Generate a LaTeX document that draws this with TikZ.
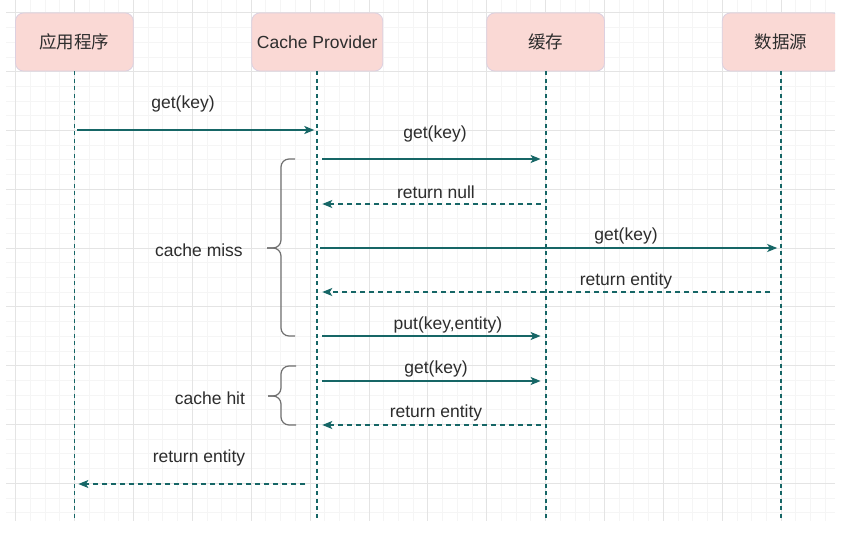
\documentclass[tikz,border=0pt]{standalone}
\usepackage{fontspec}
\setmainfont{Liberation Sans}
\newfontfamily\zhfont{Noto Sans CJK SC}
\usetikzlibrary{arrows.meta, calc}

\definecolor{seqteal}{RGB}{22,102,102}
\definecolor{boxfill}{RGB}{250,217,213}
\definecolor{boxline}{RGB}{220,208,224}
\definecolor{gridmajor}{RGB}{228,228,228}
\definecolor{gridminor}{RGB}{245,245,245}
\definecolor{txt}{RGB}{45,45,45}
\definecolor{bracegray}{RGB}{112,112,112}

\begin{document}
\begin{tikzpicture}[
    x=1pt, y=-1pt,
    every node/.style={font=\fontsize{17.5}{20}\selectfont, text=txt},
    actor/.style={draw=boxline, fill=boxfill, rounded corners=8pt, line width=0.8pt,
                  minimum width=117.8pt, minimum height=58pt, inner sep=0pt},
    life/.style={seqteal, line width=1.8pt, dash pattern=on 4pt off 3.5pt},
    msg/.style={seqteal, line width=1.4pt, -{Stealth[length=10pt, width=8pt, inset=2.5pt]},
                shorten <=5pt, shorten >=5pt},
    ret/.style={msg, dash pattern=on 5pt off 4pt},
    brc/.style={draw=bracegray, line width=1.2pt, rounded corners=8pt},
    lbl/.style={inner sep=0pt}
  ]

    %% ═══════════════════════════════════════════════
    %% LAYOUT: pixel coordinates, y grows downward
    %%   lifelines: x = 74.4, 317.3, 545.6, 781.2
    %%   grid:      58.9 major, 14.7 minor
    %% ═══════════════════════════════════════════════
    \useasboundingbox (0,0) rectangle (849,535);
    \fill[white] (0,0) rectangle (849,535);

    \begin{scope}
    \clip (6,0) rectangle (835,521);

    %% ── background grid ──
    \foreach \k in {0,...,55}
      \draw[gridminor, line width=0.5pt] ({15.5+14.72*\k},0) -- ({15.5+14.72*\k},521);
    \foreach \k in {0,...,34}
      \draw[gridminor, line width=0.5pt] (6,{12.7+14.7*\k}) -- (835,{12.7+14.7*\k});
    \foreach \k in {0,...,13}
      \draw[gridmajor, line width=0.7pt] ({15.5+58.9*\k},0) -- ({15.5+58.9*\k},521);
    \foreach \k in {0,...,8}
      \draw[gridmajor, line width=0.7pt] (6,{12.7+58.8*\k}) -- (835,{12.7+58.8*\k});

    %% ── participants ──
    \node[actor] (app)   at (74.4, 42)  {\zhfont 应用程序};
    \node[actor, minimum width=131pt] (cp) at (317.3, 42) {Cache Provider};
    \node[actor] (cache) at (545.6, 42) {\zhfont 缓存};
    \node[actor] (ds)    at (781.2, 42) {\zhfont 数据源};

    %% ── lifelines ──
    \coordinate (bot) at (0,521);
    \draw[life] (app.south)   -- (app.south |- bot);
    \draw[life] (cp.south)    -- (cp.south |- bot);
    \draw[life] (cache.south) -- (cache.south |- bot);
    \draw[life] (ds.south)    -- (ds.south |- bot);
    \end{scope}

    %% ═══════ MESSAGES ═══════
    \coordinate (m1) at (0,130);
    \coordinate (m2) at (0,159);
    \coordinate (m3) at (0,204);
    \coordinate (m4) at (0,248);
    \coordinate (m5) at (0,292);
    \coordinate (m6) at (0,336);
    \coordinate (m7) at (0,381);
    \coordinate (m8) at (0,425);
    \coordinate (m9) at (0,484);

    %% 1. app -> provider
    \draw[msg, shorten <=3pt, shorten >=3pt] (app.south |- m1) -- (cp.south |- m1);
    \node[lbl] (l1) at (183,104) {get(key)};

    %% cache miss
    \draw[msg] (cp.south |- m2) -- (cache.south |- m2);
    \node[lbl] (l2) at (435,134) {get(key)};
    \draw[ret] (cache.south |- m3) -- (cp.south |- m3);
    \node[lbl] (l3) at (436,192) {return null};
    \draw[msg, shorten <=3pt, shorten >=4pt] (cp.south |- m4) -- (ds.south |- m4);
    \node[lbl] (l4) at (626,236) {get(key)};
    \draw[ret, shorten <=11pt] (ds.south |- m5) -- (cp.south |- m5);
    \node[lbl] (l5) at (626,281) {return entity};
    \draw[msg] (cp.south |- m6) -- (cache.south |- m6);
    \node[lbl] (l6) at (448,325) {put(key,entity)};

    %% cache hit
    \draw[msg] (cp.south |- m7) -- (cache.south |- m7);
    \node[lbl] (l7) at (436,369) {get(key)};
    \draw[ret] (cache.south |- m8) -- (cp.south |- m8);
    \node[lbl] (l8) at (436,413) {return entity};

    %% back to app
    \draw[ret, shorten <=12pt, shorten >=4pt] (cp.south |- m9) -- (app.south |- m9);
    \node[lbl] (l9) at (199,458) {return entity};

    %% ═══════ BRACES ═══════
    \draw[brc] (295,159) -| (281,248) -- (267,248);
    \draw[brc] (295,336) -| (281,248) -- (267,248);
    \node[lbl] (miss) at (199,250) {cache miss};

    \draw[brc] (296,366) -| (281,396) -- (268,396);
    \draw[brc] (296,425) -| (281,396) -- (268,396);
    \node[lbl] (hit) at (210,398) {cache hit};

\end{tikzpicture}
\end{document}
